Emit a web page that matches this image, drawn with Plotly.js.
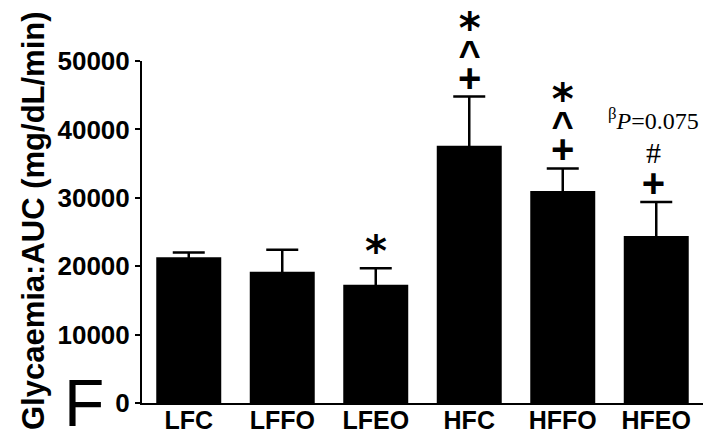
<!DOCTYPE html>
<html>
<head>
<meta charset="utf-8">
<script src="https://cdn.plot.ly/plotly-3.0.1.min.js"></script>
<style>
  html, body { margin: 0; padding: 0; background: #fff; }
  #chart { width: 722px; height: 437px; }
</style>
</head>
<body>
<div id="chart"></div>
<script>
// ---- data ----
const categories = ['LFC', 'LFFO', 'LFEO', 'HFC', 'HFFO', 'HFEO'];
const auc = [21300, 19200, 17300, 37600, 31000, 24400];
const aucSem = [700, 3200, 2400, 7200, 3300, 5000];
const yTicks = [0, 10000, 20000, 30000, 40000, 50000];
// significance symbols stacked above each bar's error bar (top to bottom)
const sigMarks = [[], [], ['*'], ['*', '^', '+'], ['*', '^', '+'], ['p', '#', '+']];
const pNote = '<sup>β</sup><i>P</i>=0.075';
const yTitle = 'Glycaemia:AUC (mg/dL/min)';
const panelLetter = 'F';

const sans = 'Liberation Sans, Arial, sans-serif';
const serif = 'Liberation Serif, Times New Roman, serif';

const trace = {
  type: 'bar',
  x: categories,
  y: auc,
  marker: { color: '#000000', line: { width: 0 } },
  error_y: {
    type: 'data',
    array: aucSem,
    color: '#000000',
    thickness: 2.5,
    width: 16
  },
  hoverinfo: 'none'
};

function glyph(sym) {
  if (sym === '+') return '<span style="font-family:Liberation Sans;font-weight:bold;font-size:40px">+</span>';
  if (sym === '^') return '<span style="font-family:Liberation Sans;font-weight:bold;font-size:38px">^</span>';
  if (sym === '*') return '<span style="font-family:DejaVu Sans;font-weight:bold;font-size:42px">*</span>';
  if (sym === '#') return '<span style="font-family:Liberation Serif;font-size:30px">#</span>';
  if (sym === 'p') return '<span style="font-family:Liberation Serif;font-size:24px">' + pNote + '</span>';
  return sym;
}

const annotations = [];
categories.forEach((cat, i) => {
  const marks = sigMarks[i];
  if (!marks.length) return;
  const hasP = marks.indexOf('p') >= 0;
  const single = marks.length === 1;
  annotations.push({
    xref: 'x', yref: 'y',
    x: cat, y: auc[i] + aucSem[i],
    text: marks.map(glyph).join('<br>'),
    showarrow: false,
    xanchor: 'center', yanchor: 'bottom',
    align: 'center',
    yshift: single ? -10 : -5,
    xshift: hasP ? -3 : 0,
    font: { family: sans, size: hasP ? 26 : 19, color: '#000' }
  });
});

// y-axis title (placed as rotated annotation for exact position)
annotations.push({
  xref: 'paper', yref: 'paper', x: 0, y: 0.5,
  xshift: -109, yshift: 11,
  xanchor: 'center', yanchor: 'middle',
  textangle: -90,
  text: yTitle, showarrow: false,
  font: { family: sans, size: 31, weight: 700, color: '#000' }
});
// panel letter
annotations.push({
  xref: 'paper', yref: 'paper', x: 0, y: 0,
  xshift: -58, yshift: 0,
  xanchor: 'center', yanchor: 'middle',
  text: panelLetter, showarrow: false,
  font: { family: sans, size: 66, color: '#000' }
});

const layout = {
  width: 722, height: 437,
  margin: { l: 142, r: 19, t: 61, b: 34, pad: 0 },
  paper_bgcolor: '#ffffff', plot_bgcolor: '#ffffff',
  showlegend: false,
  bargap: 0.305,
  xaxis: {
    type: 'category',
    range: [-0.5, 5.5],
    showline: true, linecolor: '#000', linewidth: 2,
    ticks: '', showgrid: false, zeroline: false,
    ticklabelstandoff: -6,
    tickfont: { family: sans, size: 25, weight: 700, color: '#000' },
    fixedrange: true
  },
  yaxis: {
    range: [0, 50000],
    tickvals: yTicks,
    tickformat: 'd',
    showline: true, linecolor: '#000', linewidth: 2,
    ticks: 'outside', ticklen: 5, tickwidth: 2, tickcolor: '#000',
    showgrid: false, zeroline: false,
    tickfont: { family: sans, size: 26, weight: 700, color: '#000' },
    fixedrange: true
  },
  annotations: annotations
};

Plotly.newPlot('chart', [trace], layout, { staticPlot: true, displayModeBar: false });
</script>
</body>
</html>
